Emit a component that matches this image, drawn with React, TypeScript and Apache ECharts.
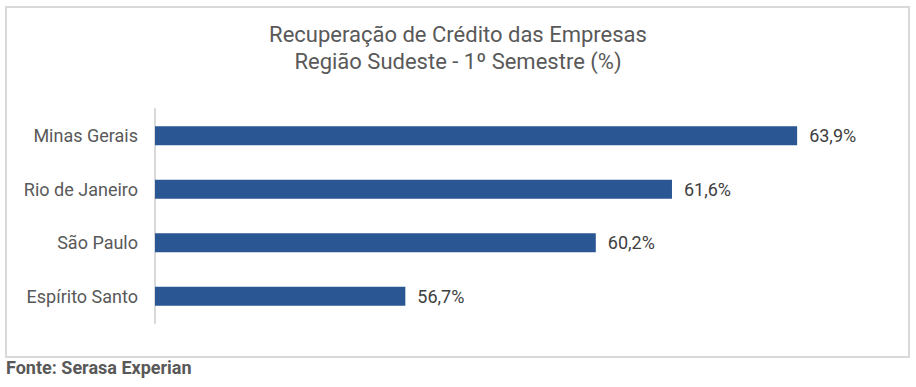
import React, { useEffect, useRef } from "react";
import * as echarts from "echarts";

const categories = ["Minas Gerais", "Rio de Janeiro", "São Paulo", "Espírito Santo"];
const values = [63.9, 61.6, 60.2, 56.7];
const titleLines = ["Recuperação de Crédito das Empresas", "Região Sudeste - 1º Semestre (%)"];
const sourceText = "Fonte: Serasa Experian";

export default function App() {
  const ref = useRef<HTMLDivElement>(null);
  useEffect(() => {
    if (!ref.current) return;
    const chart = echarts.init(ref.current, null, { renderer: "svg" });
    chart.setOption({
      animation: false,
      backgroundColor: "#ffffff",
      textStyle: { fontFamily: "Roboto" },
      title: {
        text: titleLines.join("\n"),
        left: "center",
        top: 16,
        textStyle: {
          fontFamily: "Roboto",
          fontSize: 22,
          fontWeight: "normal",
          color: "#595959",
          lineHeight: 27,
        },
      },
      graphic: [
        {
          type: "rect",
          shape: { x: 6, y: 7, width: 903, height: 350 },
          style: { fill: "none", stroke: "#d9d9d9", lineWidth: 2 },
          z: -1,
        },
        {
          type: "text",
          left: 6,
          top: 358,
          style: {
            text: sourceText,
            fontFamily: "Roboto",
            fontSize: 18,
            fontWeight: "bold",
            fill: "#595959",
          },
        },
      ],
      grid: { left: 155, right: 59, top: 109, bottom: 64, containLabel: false },
      xAxis: {
        type: "value",
        min: 52.1,
        max: 65,
        show: false,
      },
      yAxis: {
        type: "category",
        data: categories,
        inverse: true,
        axisLine: { show: true, lineStyle: { color: "#d9d9d9", width: 2 } },
        axisTick: { show: false },
        axisLabel: {
          margin: 17,
          fontFamily: "Roboto",
          fontSize: 18,
          color: "#595959",
        },
      },
      series: [
        {
          type: "bar",
          data: values,
          barWidth: 19,
          itemStyle: { color: "#2a5694" },
          label: {
            show: true,
            position: "right",
            distance: 12,
            fontFamily: "Roboto",
            fontSize: 18,
            color: "#404040",
            formatter: (p: any) => String(p.value.toFixed(1)).replace(".", ",") + "%",
          },
        },
      ],
    });
    return () => chart.dispose();
  }, []);
  return (
    <div
      ref={ref}
      style={{ position: "absolute", left: 0, top: 0, width: 916, height: 387 }}
    />
  );
}
